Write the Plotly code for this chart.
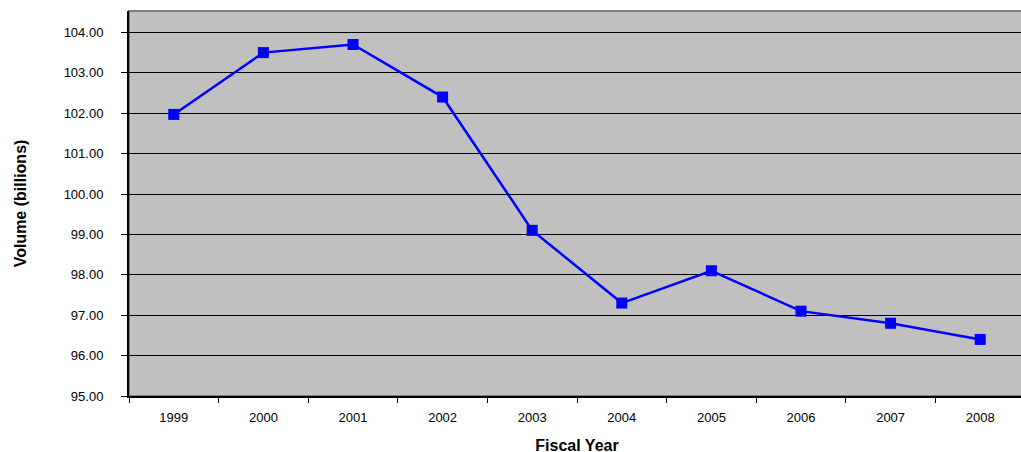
import plotly.graph_objects as go

years = ["1999", "2000", "2001", "2002", "2003", "2004", "2005", "2006", "2007", "2008"]
volume = [101.97, 103.5, 103.7, 102.4, 99.1, 97.3, 98.1, 97.1, 96.8, 96.4]

fig = go.Figure()
fig.add_trace(go.Scatter(
    x=years, y=volume, mode="lines+markers",
    line=dict(color="#0000FF", width=2.5),
    marker=dict(symbol="square", size=11, color="#0000FF"),
    showlegend=False,
))

fig.add_shape(type="rect", xref="paper", yref="paper", x0=0, x1=1, y0=0, y1=1,
              line=dict(color="#808080", width=2), layer="below")

fig.update_layout(
    width=1025, height=454,
    margin=dict(l=129, r=0, t=11, b=55),
    paper_bgcolor="white", plot_bgcolor="#C0C0C0",
    font=dict(family="Liberation Sans, Arial, sans-serif", size=13, color="black"),
    xaxis=dict(
        type="category", range=[-0.5, len(years) - 0.5],
        tickson="boundaries", ticks="outside", ticklen=5,
        tickcolor="black", showline=True, linecolor="black", linewidth=2,
        showgrid=False, tickfont=dict(size=13), ticklabelstandoff=8,
        title=dict(text="<b>Fiscal Year</b>", font=dict(size=16), standoff=18),
    ),
    yaxis=dict(
        range=[95, 104.53], dtick=1, tick0=95, tickformat=".2f",
        ticks="outside", ticklen=6, tickcolor="black",
        showline=True, linecolor="black", linewidth=2,
        showgrid=True, gridcolor="black", gridwidth=1, zeroline=False,
        tickfont=dict(size=13), ticklabelstandoff=15,
        title=dict(text="<b>Volume (billions)</b>", font=dict(size=16), standoff=33),
    ),
)

fig.write_html(
    "out.html",
    config={"displayModeBar": False},
    post_script="document.body.style.margin='0';document.body.style.overflow='hidden';",
)
